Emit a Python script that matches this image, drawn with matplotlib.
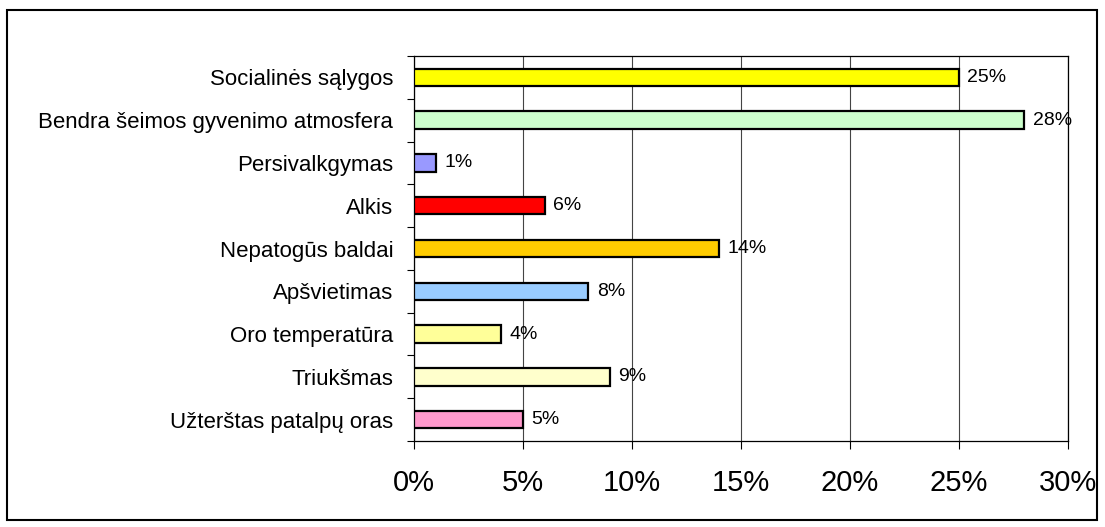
import matplotlib.pyplot as plt
from matplotlib.patches import Rectangle
from matplotlib.ticker import FixedLocator, FuncFormatter

plt.rcParams['font.family'] = ['Liberation Sans', 'DejaVu Sans']

# Duomenys (nuo apacios i virsu)
kategorijos = ['Užterštas patalpų oras', 'Triukšmas', 'Oro temperatūra', 'Apšvietimas',
               'Nepatogūs baldai', 'Alkis', 'Persivalkgymas',
               'Bendra šeimos gyvenimo atmosfera', 'Socialinės sąlygos']
reiksmes = [5, 9, 4, 8, 14, 6, 1, 28, 25]
spalvos = ['#FF99CC', '#FFFFCC', '#FFFF99', '#99CCFF', '#FFCC00', '#FF0000', '#9999FF',
           '#CCFFCC', '#FFFF00']
x_ticks = [0, 5, 10, 15, 20, 25, 30]

fig = plt.figure(figsize=(11.05, 5.27), dpi=100)
ax = fig.add_axes([414 / 1105, 1 - 441 / 527, (1068 - 414) / 1105, (441 - 56) / 527])

y = list(range(len(kategorijos)))
ax.barh(y, reiksmes, height=0.41, color=spalvos, edgecolor='black', linewidth=1.6, zorder=3)

for yi, v in zip(y, reiksmes):
    ax.annotate(f'{v}%', (v, yi), xytext=(6, 0), textcoords='offset points',
                va='center', ha='left', fontsize=14, zorder=4)

ax.set_xlim(0, 30)
ax.set_ylim(-0.5, len(kategorijos) - 0.5)

ax.set_xticks(x_ticks)
ax.xaxis.set_major_formatter(FuncFormatter(lambda v, p: f'{v:.0f}%'))
ax.tick_params(axis='x', length=6, width=0.8, pad=14, labelsize=21, direction='out')

ax.set_yticks(y)
ax.set_yticklabels(kategorijos)
ax.yaxis.set_minor_locator(FixedLocator([i - 0.5 for i in range(len(kategorijos) + 1)]))
ax.tick_params(axis='y', which='major', length=0, pad=15, labelsize=16)
ax.tick_params(axis='y', which='minor', length=5, width=0.8, direction='out')

ax.grid(axis='x', color='#444444', linewidth=0.8, zorder=0)
for s in ax.spines.values():
    s.set_color('black')
    s.set_linewidth(0.9)

# ramelis aplink visa paveiksla
fig.patches.append(Rectangle((7 / 1105, 1 - 520 / 527), 1090 / 1105, 510 / 527,
                             transform=fig.transFigure, fill=False,
                             edgecolor='black', linewidth=1.5))

fig.savefig('out.png', dpi=100)
